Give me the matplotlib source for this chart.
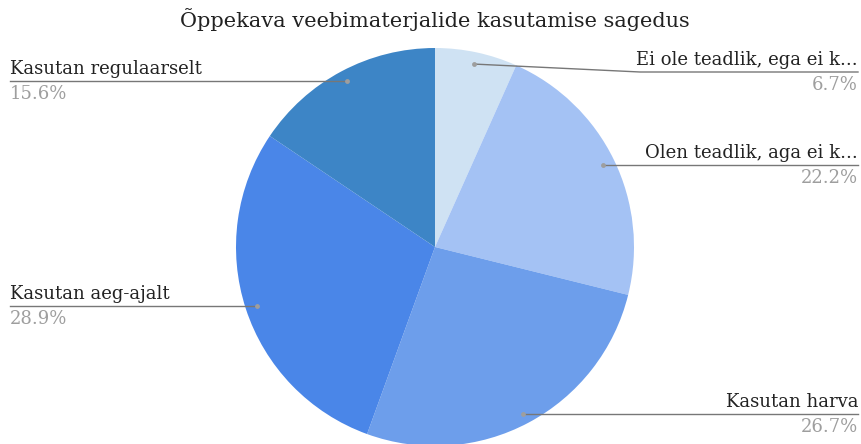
import numpy as np
import matplotlib
matplotlib.use("Agg")
import matplotlib.pyplot as plt

title = "Õppekava veebimaterjalide kasutamise sagedus"
labels = ["Ei ole teadlik, ega ei k...", "Olen teadlik, aga ei k...",
          "Kasutan harva", "Kasutan aeg-ajalt", "Kasutan regulaarselt"]
values = [6.7, 22.2, 26.7, 28.9, 15.6]
colors = ["#cfe2f3", "#a4c2f4", "#6d9eeb", "#4a86e8", "#3d85c6"]

W, H = 861, 444
fig = plt.figure(figsize=(W / 100, H / 100), dpi=100)
ax = fig.add_axes([0, 0, 1, 1])

cx, cy, R = 435, H - 247, 199
wedges, _ = ax.pie(values, colors=colors, startangle=90, counterclock=False,
                   center=(cx, cy), radius=R, wedgeprops=dict(linewidth=0))
ax.set_xlim(0, W)
ax.set_ylim(0, H)
ax.set_aspect("auto")
ax.axis("off")

font = "DejaVu Serif"
# layout: label line heights (pixel y from top) and sides
line_y = [72, 165, 414, 306, 81]
line_col = "#777777"
for w, lab, v, ly in zip(wedges, labels, values, line_y):
    mid = np.deg2rad((w.theta1 + w.theta2) / 2)
    dx, dy = cx + 0.94 * R * np.cos(mid), cy + 0.94 * R * np.sin(mid)
    yl = H - ly
    right = np.cos(mid) > 0
    if right:
        xe = 858
        if abs(dy - yl) > 3:
            xs = 640
            ax.plot([dx, xs, xe], [dy, yl, yl], color=line_col, lw=1)
        else:
            ax.plot([dx, xe], [yl, yl], color=line_col, lw=1)
        ha, tx = "right", xe
    else:
        xe = 10
        ax.plot([xe, dx], [yl, yl], color=line_col, lw=1)
        ha, tx = "left", xe
    ax.plot([dx], [dy if right and abs(dy - yl) > 3 else yl], "o", ms=3.5,
            color="#9e9e9e", mec="none")
    ax.text(tx, yl + 3, lab, ha=ha, va="bottom", fontsize=13, family=font,
            color="#222222")
    ax.text(tx, yl - 4, f"{v:.1f}%", ha=ha, va="top", fontsize=13,
            family=font, color="#9e9e9e")

ax.text(W / 2 + 4, H - 20, title, ha="center", va="center", fontsize=15,
        family=font, color="#222222")

fig.savefig("out.png", dpi=100)
